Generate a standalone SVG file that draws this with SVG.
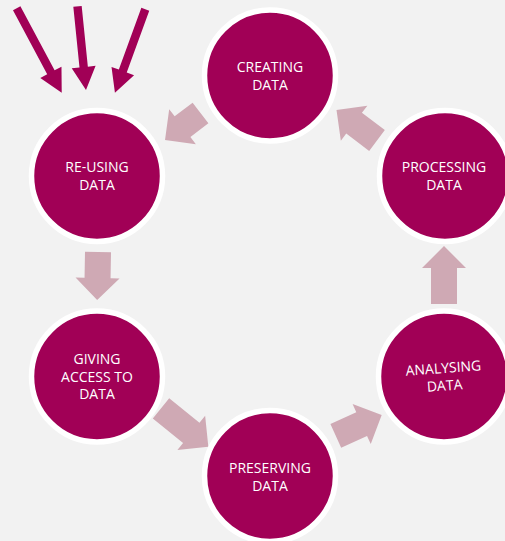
<svg xmlns="http://www.w3.org/2000/svg" width="505" height="541" viewBox="0 0 505 541">
<style>
.node circle{fill:#a10056;stroke:#ffffff;stroke-width:5.5}
.node text{fill:#ffffff;font-family:"Open Sans","Liberation Sans",sans-serif;font-size:14px;text-anchor:middle}
.pa{fill:#cfa9b4}
.ma{fill:#a10056}
</style>
<rect width="505" height="541" fill="#f2f2f2"/>
<g id="connectors">
<path class="pa" transform="translate(200.5,113) rotate(142.7)" d="M0,-13 L22.6,-13 L22.6,-22 L44.6,0 L22.6,22 L22.6,13 L0,13 Z"/>
<path class="pa" transform="translate(98,252) rotate(91)" d="M0,-13 L26,-13 L26,-22 L48,0 L26,22 L26,13 L0,13 Z"/>
<path class="pa" transform="translate(161,408.3) rotate(39.1)" d="M0,-13 L39,-13 L39,-22 L61,0 L39,22 L39,13 L0,13 Z"/>
<path class="pa" transform="translate(335.8,435.8) rotate(-24.4)" d="M0,-13 L28.4,-13 L28.4,-22 L50.4,0 L28.4,22 L28.4,13 L0,13 Z"/>
<path class="pa" transform="translate(444,304) rotate(-90)" d="M0,-13 L36,-13 L36,-22 L58,0 L36,22 L36,13 L0,13 Z"/>
<path class="pa" transform="translate(377,140.5) rotate(217)" d="M0,-13 L28.7,-13 L28.7,-22 L50.7,0 L28.7,22 L28.7,13 L0,13 Z"/>
<path class="ma" transform="translate(16.7,8.3) rotate(61.9)" d="M0,-4.2 L72.6,-4.2 L72.6,-12 L95.6,0 L72.6,12 L72.6,4.2 L0,4.2 Z"/>
<path class="ma" transform="translate(77.5,6.3) rotate(84.2)" d="M0,-4.2 L61.1,-4.2 L61.1,-12 L84.1,0 L61.1,12 L61.1,4.2 L0,4.2 Z"/>
<path class="ma" transform="translate(145.3,9.2) rotate(110)" d="M0,-4.2 L65.8,-4.2 L65.8,-12 L88.8,0 L65.8,12 L65.8,4.2 L0,4.2 Z"/>
</g>
<g id="creating" class="node">
<circle cx="270" cy="75.5" r="65.5"/>
<text x="270" y="72">CREATING</text>
<text x="270" y="89.5">DATA</text>
</g>
<g id="reusing" class="node">
<circle cx="97" cy="176" r="65.5"/>
<text x="97" y="172">RE-USING</text>
<text x="97" y="189.5">DATA</text>
</g>
<g id="processing" class="node">
<circle cx="445" cy="176" r="65.5"/>
<text x="444" y="172">PROCESSING</text>
<text x="444" y="189.5">DATA</text>
</g>
<g id="giving" class="node">
<circle cx="97" cy="376.5" r="65.5"/>
<text x="97" y="364">GIVING</text>
<text x="97" y="381.5">ACCESS TO</text>
<text x="97" y="399">DATA</text>
</g>
<g id="analysing" class="node">
<circle cx="444" cy="376.5" r="65.5"/>
<g transform="rotate(-4 444 376.5)">
<text x="444" y="373">ANALYSING</text>
<text x="444" y="390.5">DATA</text>
</g>
</g>
<g id="preserving" class="node">
<circle cx="270" cy="476" r="65.5"/>
<text x="270" y="473">PRESERVING</text>
<text x="270" y="490.5">DATA</text>
</g>
</svg>
